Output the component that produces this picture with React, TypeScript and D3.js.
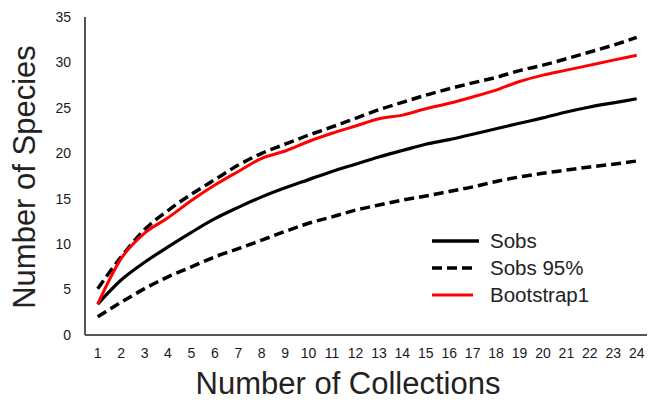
import React from "react";
import * as d3 from "d3";

const collections = d3.range(1, 25);
const yTicks = [0, 5, 10, 15, 20, 25, 30, 35];

const sobs = [3.4, 6.05, 8.0, 9.7, 11.3, 12.8, 14.05, 15.2, 16.2, 17.1, 18.0, 18.8, 19.6, 20.3, 21.0, 21.5, 22.1, 22.7, 23.3, 23.9, 24.55, 25.1, 25.55, 26.0];
const sobsUpper = [5.1, 8.6, 11.6, 13.7, 15.5, 17.1, 18.7, 20.0, 21.0, 22.0, 22.9, 23.85, 24.8, 25.6, 26.4, 27.1, 27.75, 28.35, 29.1, 29.7, 30.4, 31.15, 31.9, 32.75];
const sobsLower = [2.0, 3.6, 5.1, 6.4, 7.5, 8.6, 9.5, 10.45, 11.4, 12.3, 13.0, 13.75, 14.3, 14.85, 15.3, 15.8, 16.3, 16.9, 17.4, 17.8, 18.15, 18.5, 18.8, 19.15];
const bootstrap1 = [3.4, 8.4, 11.2, 12.9, 14.8, 16.5, 18.0, 19.45, 20.25, 21.3, 22.2, 23.0, 23.8, 24.2, 24.9, 25.5, 26.2, 26.95, 27.9, 28.6, 29.15, 29.7, 30.25, 30.8];

const legendItems = [
  { label: "Sobs", color: "#000000", dash: "none", width: 3.5, end: 479 },
  { label: "Sobs 95%", color: "#000000", dash: "10,5", width: 3.5, end: 473 },
  { label: "Bootstrap1", color: "#ff0000", dash: "none", width: 3, end: 473 },
];

const FONT = "'Liberation Sans', Arial, sans-serif";

export default function App() {
  const W = 662, H = 400;
  const x = d3.scaleLinear().domain([1, 24]).range([97.7, 636.7]);
  const y = d3.scaleLinear().domain([0, 35]).range([335, 17]);
  const line = d3
    .line<number>()
    .x((_, i) => x(collections[i]))
    .y((d) => y(d))
    .curve(d3.curveMonotoneX);

  const series = [
    { data: sobsLower, color: "#000", dash: "10,5", width: 3.5 },
    { data: sobsUpper, color: "#000", dash: "10,5", width: 3.5 },
    { data: sobs, color: "#000", dash: "none", width: 3.2 },
    { data: bootstrap1, color: "#ff0000", dash: "none", width: 3 },
  ];

  return (
    <svg width={W} height={H} style={{ position: "absolute", left: 0, top: 0, background: "#fff" }} fontFamily={FONT}>
      <line x1={85} x2={85} y1={y(35)} y2={335} stroke="#555" strokeWidth={2} />
      <line x1={85} x2={647} y1={335} y2={335} stroke="#555" strokeWidth={2} />
      {yTicks.map((t) => (
        <text key={t} x={71} y={y(t)} dy="0.35em" textAnchor="end" fontSize={14} fill="#1a1a1a">
          {t}
        </text>
      ))}
      {collections.map((c) => (
        <text key={c} x={x(c)} y={353} dy="0.35em" textAnchor="middle" fontSize={14} fill="#1a1a1a">
          {c}
        </text>
      ))}
      <text x={348} y={394} textAnchor="middle" fontSize={31} fill="#222">
        Number of Collections
      </text>
      <text transform="translate(35,177) rotate(-90)" textAnchor="middle" fontSize={31} fill="#222">
        Number of Species
      </text>
      {series.map((s, i) => (
        <path
          key={i}
          d={line(s.data) || ""}
          fill="none"
          stroke={s.color}
          strokeWidth={s.width}
          strokeDasharray={s.dash}
          strokeLinejoin="round"
        />
      ))}
      {legendItems.map((l, i) => {
        const ly = 241 + i * 27;
        return (
          <g key={l.label}>
            <line x1={432} x2={l.end} y1={ly} y2={ly} stroke={l.color} strokeWidth={l.width} strokeDasharray={l.dash} />
            <text x={490} y={ly} dy="0.35em" fontSize={20.5} fill="#222">
              {l.label}
            </text>
          </g>
        );
      })}
    </svg>
  );
}
